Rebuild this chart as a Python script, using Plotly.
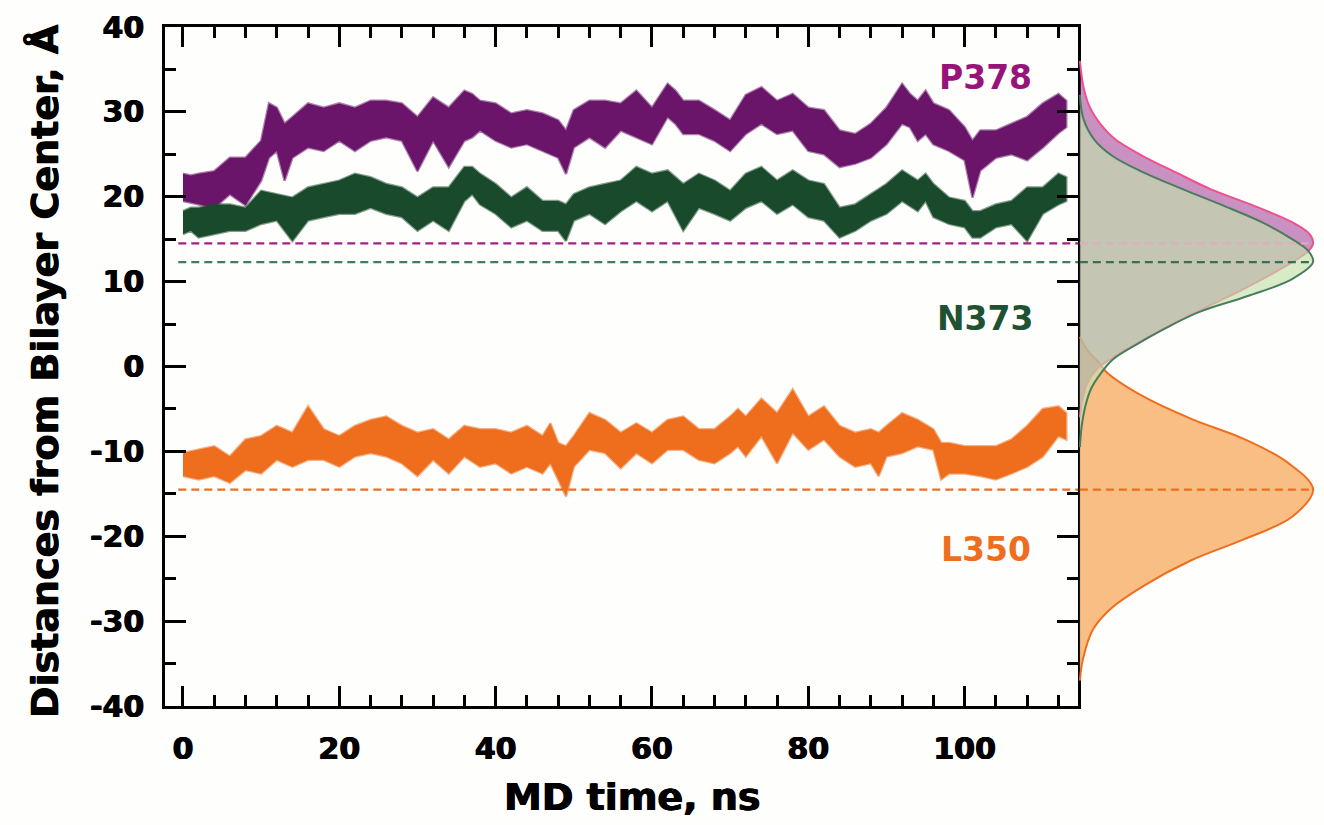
import plotly.graph_objects as go

# ---------------- MD time series (upper / lower envelope of each trace) ----------------
p378_t = [0, 1, 2, 4, 6, 8, 10, 11, 12, 13, 14, 16, 18, 20, 22, 24, 26, 28, 30, 32, 34, 36, 37, 38, 40, 42, 44, 46, 48, 49,
          50, 52, 54, 56, 58, 60, 62, 63, 64, 66, 68, 70, 72, 74, 76, 78, 80, 82, 84, 86, 88, 90, 92, 93, 94, 95, 96, 98,
          100, 101, 102, 104, 106, 108, 110, 112, 113]
p378_hi = [22.7, 22.5, 22.7, 23, 24.6, 24.6, 26.6, 31, 30.5, 28.6, 29.4, 31, 30.5, 31, 30.5, 31.3, 31.3, 31, 29.4, 31.7,
           30.5, 32.5, 32.1, 31.3, 31, 29.8, 30.2, 29.8, 29, 27.8, 30.2, 31.3, 31.3, 31, 32.5, 30.5, 33.3, 32.5, 31.3, 31.3,
           30.2, 29, 32, 32.9, 31.3, 32.1, 30.5, 30.2, 27.8, 27.4, 28.6, 30.5, 33.3, 32.1, 31.3, 32.5, 31, 30.2, 28.2, 26.6,
           27.8, 27.8, 28.6, 29.4, 31, 32.1, 31.3]
p378_lo = [19.5, 19.3, 19.1, 18.7, 20.3, 19, 21.9, 24.6, 25.4, 21.9, 24.6, 25.8, 25.4, 26.6, 25.4, 26.6, 27, 26.6, 23, 26.6,
           23.5, 26.6, 27, 27.8, 26.6, 25.8, 26.2, 25.4, 24.6, 22.7, 25.8, 27, 25.8, 27.8, 27, 26.2, 29.4, 28.6, 27.4, 27.4,
           26.6, 25.4, 27.4, 28.6, 27.4, 27.8, 25.4, 25, 23.5, 23.9, 24.6, 26.2, 28.6, 28.2, 26.6, 27.4, 26.2, 25.4, 24.3, 19.9,
           23.1, 24.6, 25, 24.3, 25.8, 27.5, 28.2]

n373_t = [0, 1, 2, 4, 6, 8, 10, 12, 14, 16, 18, 20, 22, 24, 26, 28, 30, 32, 34, 36, 37, 38, 40, 42, 44, 46, 48, 49, 50, 52,
          54, 56, 58, 60, 62, 64, 66, 68, 70, 72, 74, 76, 78, 80, 82, 84, 86, 88, 90, 92, 94, 95, 96, 98, 100, 101, 102, 104,
          106, 108, 110, 112, 113]
n373_hi = [18.3, 18.7, 18.7, 19.1, 19.1, 18.7, 20.7, 20.3, 19.9, 21.1, 21.5, 21.9, 22.7, 22.3, 21.5, 21.1, 19.9, 21.1, 21.1,
           23.5, 23.5, 22.7, 21.5, 19.9, 21.1, 19.5, 19.5, 19.1, 20.3, 21.1, 21.5, 21.9, 23.5, 22.7, 23.1, 21.5, 22.7, 21.9,
           20.7, 22.7, 23.5, 21.9, 23.1, 21.9, 21.5, 18.7, 19.1, 20.3, 21.5, 23.1, 21.9, 22.7, 21.5, 19.9, 19.5, 18.3, 18.3,
           19.1, 19.5, 21.1, 21.1, 22.7, 22.3]
n373_lo = [15.6, 16, 15.2, 15.6, 16, 16, 16.8, 17.2, 14.8, 17.2, 17.6, 18, 18, 18.7, 18, 17.6, 16, 17.2, 16, 19.5, 20.3, 19.1,
           18, 16.4, 17.2, 16, 16, 14.8, 17.2, 18, 16.8, 18.3, 19.5, 18.3, 19.5, 16, 18.7, 18, 17.2, 18.7, 19.5, 18, 19.1,
           17.6, 17.2, 15.2, 16, 17.2, 18, 19.5, 18.3, 19.5, 17.6, 16.8, 16.4, 15.2, 15.2, 16.4, 16.8, 14.8, 18, 19.1, 19.5]

l350_t = [0, 2, 4, 6, 8, 10, 12, 14, 16, 18, 20, 22, 24, 26, 28, 30, 32, 34, 36, 38, 40, 42, 44, 46, 47, 48, 49, 50, 52, 54,
          56, 58, 60, 62, 64, 66, 68, 70, 71, 72, 74, 76, 78, 80, 82, 84, 86, 88, 89, 90, 92, 94, 96, 97, 98, 100, 102, 104,
          106, 108, 110, 112, 113]
l350_hi = [-10.2, -9.8, -9.4, -10.6, -8.6, -8.2, -7, -7.8, -4.7, -7.4, -8.2, -7, -6.3, -5.9, -7, -7.8, -7.4, -8.6, -7, -7.4,
           -7.4, -7.8, -7, -8.2, -6.7, -9, -9.4, -8.2, -5.5, -6.3, -7.8, -6.7, -7.8, -6.3, -5.9, -7.4, -7.4, -5.9, -5, -5.9,
           -3.8, -5.5, -2.7, -5.9, -4.7, -7, -7.8, -7.4, -7.8, -7, -5.5, -6.3, -7.4, -9, -9, -9.4, -9.4, -9.4, -8.6, -7, -5,
           -4.7, -5.5]
l350_lo = [-12.9, -13.3, -12.9, -13.7, -12.2, -12.6, -11, -11.8, -11, -11, -11.8, -10.6, -10.2, -10.6, -11.4, -12.9, -11,
           -12.6, -10.6, -11.8, -11.4, -12.6, -11.8, -12.6, -11.4, -13.3, -15.3, -11.8, -9.8, -10.2, -12, -10.2, -11.4, -9.8,
           -9.8, -11, -11.4, -10.2, -9.4, -10.6, -8.2, -11.4, -7.8, -9.8, -8.6, -10.6, -11.8, -11.4, -12.9, -10.6, -10.2,
           -9.4, -9.8, -13.3, -12.6, -12.6, -12.9, -13.3, -12.6, -11.8, -10.6, -8.2, -8.6]

# reference depths (dashed lines, at the maxima of the distributions)
p378_ref = 14.5
n373_ref = 12.3
l350_ref = -14.5

# ---------------- distributions (relative density vs. depth) ----------------
p378_dist_y = [36, 33, 30.7, 28.5, 26.8, 24.8, 22.9, 20.9, 18.9, 17.0, 15.6, 14.5, 13.6, 11.8, 9.1, 7.1, 5.2, 3.2, 1.2,
               -0.4, -2.1, -4, -6]
p378_dist_d = [0, 0.015, 0.04, 0.09, 0.15, 0.27, 0.41, 0.56, 0.75, 0.91, 0.985, 1.0, 0.98, 0.88, 0.70, 0.55, 0.41, 0.28,
               0.15, 0.07, 0.03, 0.01, 0]
n373_dist_y = [32, 29.2, 26.8, 24.8, 22.9, 20.9, 18.9, 17.0, 15.0, 13.6, 12.3, 10.3, 8.3, 6.4, 4.4, 2.4, 0.8, -0.8, -2.5,
               -4.5, -7, -9.5]
n373_dist_d = [0, 0.015, 0.06, 0.14, 0.27, 0.44, 0.62, 0.78, 0.91, 0.98, 1.0, 0.91, 0.72, 0.51, 0.36, 0.23, 0.14, 0.09,
               0.05, 0.025, 0.008, 0]
l350_dist_y = [3.5, 2, 0.5, -0.7, -3.5, -6.2, -8.5, -11.3, -14.5, -17.7, -20.4, -22.8, -25.9, -28.6, -31, -34.5, -37]
l350_dist_d = [0, 0.03, 0.08, 0.116, 0.27, 0.48, 0.70, 0.89, 1.0, 0.91, 0.70, 0.48, 0.27, 0.13, 0.056, 0.013, 0]

x_ticks = [0, 20, 40, 60, 80, 100]
y_ticks = [-40, -30, -20, -10, 0, 10, 20, 30, 40]

# ---------------- styling ----------------
C_P378 = "#6a1569"
C_N373 = "#1a4a2c"
C_L350 = "#ee6e1e"
FONT = "DejaVu Sans"
HEAVY = "0.6px 0px 0px black, -0.6px 0px 0px black"   # thickens the bold glyphs a little

W, H = 1324, 825
PX0, PX1 = 165, 1078          # main panel, horizontal pixel extent
PY0, PY1 = 27, 706            # main panel, vertical pixel extent (from top)


def rgba(hex_col, a):
    h = hex_col.lstrip("#")
    return "rgba(%d,%d,%d,%.2f)" % (int(h[0:2], 16), int(h[2:4], 16), int(h[4:6], 16), a)


fig = go.Figure()

# dashed reference depths across the time panel
for ref, col in [(p378_ref, "#a61e86"), (n373_ref, "#3d7d62"), (l350_ref, C_L350)]:
    fig.add_trace(go.Scatter(x=[-0.6, 114.5], y=[ref, ref], mode="lines",
                             line=dict(color=col, width=2.2, dash="8px,5px"),
                             hoverinfo="skip", showlegend=False, xaxis="x", yaxis="y"))


def band(t, hi, lo, col):
    xs = list(t) + list(t)[::-1]
    ys = list(hi) + list(lo)[::-1]
    return go.Scatter(x=xs, y=ys, mode="lines", fill="toself", fillcolor=col,
                      line=dict(color=rgba(col, 0.55), width=2.5), hoverinfo="skip",
                      showlegend=False, xaxis="x", yaxis="y")


fig.add_trace(band(p378_t, p378_hi, p378_lo, C_P378))
fig.add_trace(band(n373_t, n373_hi, n373_lo, C_N373))
fig.add_trace(band(l350_t, l350_hi, l350_lo, C_L350))

# distribution panel
fig.add_trace(go.Scatter(x=l350_dist_d, y=l350_dist_y, mode="lines", line_shape="spline",
                         fill="tozerox", fillcolor="rgba(249,186,125,0.95)",
                         line=dict(color="#ee6e1e", width=2),
                         hoverinfo="skip", showlegend=False, xaxis="x2", yaxis="y2"))
fig.add_trace(go.Scatter(x=p378_dist_d, y=p378_dist_y, mode="lines", line_shape="spline",
                         fill="tozerox", fillcolor="rgba(150,45,140,0.52)",
                         line=dict(color="#f0508c", width=2),
                         hoverinfo="skip", showlegend=False, xaxis="x2", yaxis="y2"))
fig.add_trace(go.Scatter(x=n373_dist_d, y=n373_dist_y, mode="lines", line_shape="spline",
                         fill="tozerox", fillcolor="rgba(195,224,172,0.66)",
                         line=dict(color="#4a7c5e", width=2),
                         hoverinfo="skip", showlegend=False, xaxis="x2", yaxis="y2"))

# dashed depths continued through the distributions, up to each maximum
for ref, col, d in [(p378_ref, "rgba(225,170,195,0.9)", max(p378_dist_d)),
                    (n373_ref, "#3d6e55", max(n373_dist_d)),
                    (l350_ref, C_L350, max(l350_dist_d))]:
    fig.add_trace(go.Scatter(x=[0, d], y=[ref, ref], mode="lines",
                             line=dict(color=col, width=2.2, dash="8px,5px"),
                             hoverinfo="skip", showlegend=False, xaxis="x2", yaxis="y2"))

tickfont = dict(family=FONT, size=30, color="black", weight="bold", shadow=HEAVY)

fig.update_layout(
    width=W, height=H,
    margin=dict(l=0, r=0, t=0, b=0, pad=0, autoexpand=False),
    paper_bgcolor="#fefefd", plot_bgcolor="rgba(0,0,0,0)",
    xaxis=dict(domain=[PX0 / W, PX1 / W], range=[-2.3, 114.5], anchor="y", automargin=False,
               tickmode="array", tickvals=x_ticks, ticktext=[str(v) for v in x_ticks],
               ticks="inside", ticklen=20, tickwidth=2.5, tickcolor="black",
               minor=dict(dtick=4, tick0=0, ticks="inside", ticklen=11, tickwidth=2.5, tickcolor="black"),
               showline=True, linewidth=2.5, linecolor="black", mirror="ticks",
               showgrid=False, zeroline=False, tickfont=tickfont, ticklabelstandoff=14),
    yaxis=dict(domain=[1 - PY1 / H, 1 - PY0 / H], range=[-40, 40], anchor="x", automargin=False,
               tickmode="array", tickvals=y_ticks, ticktext=[str(v) for v in y_ticks],
               ticks="inside", ticklen=21, tickwidth=2.5, tickcolor="black",
               minor=dict(dtick=5, tick0=0, ticks="inside", ticklen=11, tickwidth=2.5, tickcolor="black"),
               showline=True, linewidth=2.5, linecolor="black", mirror="ticks",
               showgrid=False, zeroline=False, tickfont=tickfont, ticklabelstandoff=12),
    xaxis2=dict(domain=[PX1 / W, 1.0], range=[-0.008, (W - PX1) / (1313 - PX1)], anchor="y2",
                visible=False, showgrid=False, zeroline=False, automargin=False),
    yaxis2=dict(domain=[1 - PY1 / H, 1 - PY0 / H], range=[-40, 40], anchor="x2",
                visible=False, showgrid=False, zeroline=False, automargin=False),
    showlegend=False,
)

# axis titles
fig.add_annotation(text="Distances from Bilayer Center, Å", xref="paper", yref="paper",
                   x=45 / W, y=1 - 371 / H, textangle=-90, showarrow=False,
                   font=dict(family=FONT, size=38, color="black", weight="bold", shadow=HEAVY),
                   xanchor="center", yanchor="middle")
fig.add_annotation(text="MD time, ns", xref="paper", yref="paper",
                   x=632 / W, y=1 - 797 / H, showarrow=False,
                   font=dict(family=FONT, size=38, color="black", weight="bold", shadow=HEAVY),
                   xanchor="center", yanchor="middle")

# series labels
for txt, yv, col in [("P378", 34.0, "#97147a"), ("N373", 5.7, "#1f5233"), ("L350", -21.6, "#ee6e1e")]:
    fig.add_annotation(text=txt, x=102.7, y=yv, xref="x", yref="y", showarrow=False,
                       font=dict(family=FONT, size=33, color=col, weight="bold"),
                       xanchor="center", yanchor="middle")

fig.write_html("out.html")
